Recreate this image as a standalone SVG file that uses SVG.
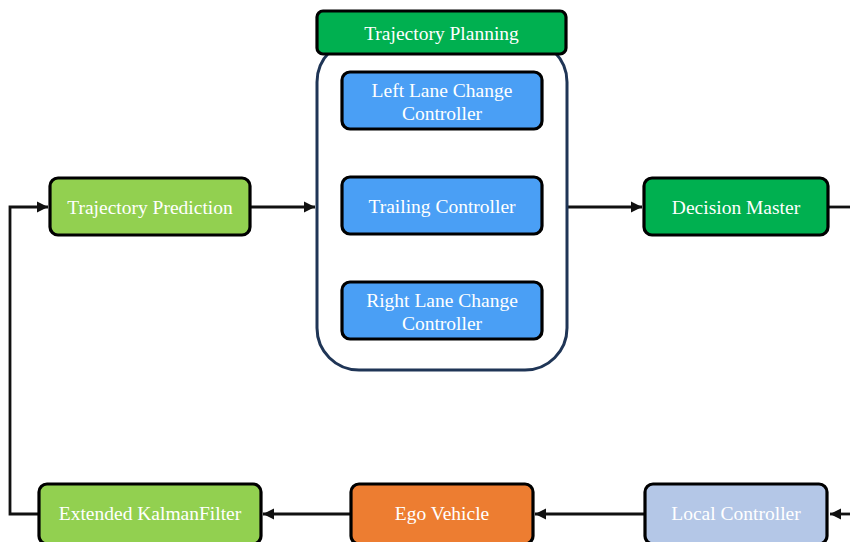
<svg xmlns="http://www.w3.org/2000/svg" width="850" height="542" viewBox="0 0 850 542">
<style>
.box{stroke:#000;stroke-width:3.2}
.t{font-family:"Liberation Serif","Times New Roman",Times,serif;font-size:19.5px;fill:#fff;text-anchor:middle}
.c{fill:none;stroke:#111;stroke-width:2.8}
</style>
<defs>
<marker id="ah" viewBox="0 0 10 10" refX="10" refY="5" markerWidth="4" markerHeight="4" orient="auto" markerUnits="strokeWidth">
<path d="M0,0 L10,5 L0,10 z" fill="#111"/>
</marker>
</defs>
<rect width="850" height="542" fill="#fff"/>
<g id="connectors">
<path class="c" d="M251,207 L315,207" marker-end="url(#ah)"/>
<path class="c" d="M567,207 L642,207" marker-end="url(#ah)"/>
<path class="c" d="M829,207 L852,207"/>
<path class="c" d="M852,514 L830,514" marker-end="url(#ah)"/>
<path class="c" d="M644,514 L535,514" marker-end="url(#ah)"/>
<path class="c" d="M350,514 L263,514" marker-end="url(#ah)"/>
<path class="c" d="M38,514 L10,514 L10,207 L48,207" marker-end="url(#ah)"/>
</g>
<g id="trajectory-planning-group">
<rect x="317" y="40" width="250" height="330" rx="42" fill="#fff" stroke="#1f3556" stroke-width="3"/>
</g>
<g id="trajectory-planning">
<rect class="box" x="317" y="11" width="249" height="43" rx="6" fill="#00b050"/>
<text class="t" x="441.5" y="40">Trajectory Planning</text>
</g>
<g id="left-lane-change">
<rect class="box" x="342" y="72" width="200" height="57" rx="8" fill="#4a9ff5"/>
<text class="t" x="442" y="97">Left Lane Change</text>
<text class="t" x="442" y="120">Controller</text>
</g>
<g id="trailing-controller">
<rect class="box" x="342" y="177" width="200" height="57" rx="8" fill="#4a9ff5"/>
<text class="t" x="442" y="213">Trailing Controller</text>
</g>
<g id="right-lane-change">
<rect class="box" x="342" y="282" width="200" height="57" rx="8" fill="#4a9ff5"/>
<text class="t" x="442" y="307">Right Lane Change</text>
<text class="t" x="442" y="330">Controller</text>
</g>
<g id="trajectory-prediction">
<rect class="box" x="50" y="178" width="200" height="57" rx="8" fill="#92d050"/>
<text class="t" x="150" y="214">Trajectory Prediction</text>
</g>
<g id="decision-master">
<rect class="box" x="644" y="178" width="184" height="57" rx="8" fill="#00b050"/>
<text class="t" x="736" y="214">Decision Master</text>
</g>
<g id="extended-kalman-filter">
<rect class="box" x="39" y="484" width="222" height="60" rx="8" fill="#92d050"/>
<text class="t" x="150" y="520">Extended KalmanFilter</text>
</g>
<g id="ego-vehicle">
<rect class="box" x="351" y="484" width="182" height="60" rx="8" fill="#ed7d31"/>
<text class="t" x="442" y="520">Ego Vehicle</text>
</g>
<g id="local-controller">
<rect class="box" x="645" y="484" width="182" height="60" rx="8" fill="#b4c7e7"/>
<text class="t" x="736" y="520">Local Controller</text>
</g>
</svg>
